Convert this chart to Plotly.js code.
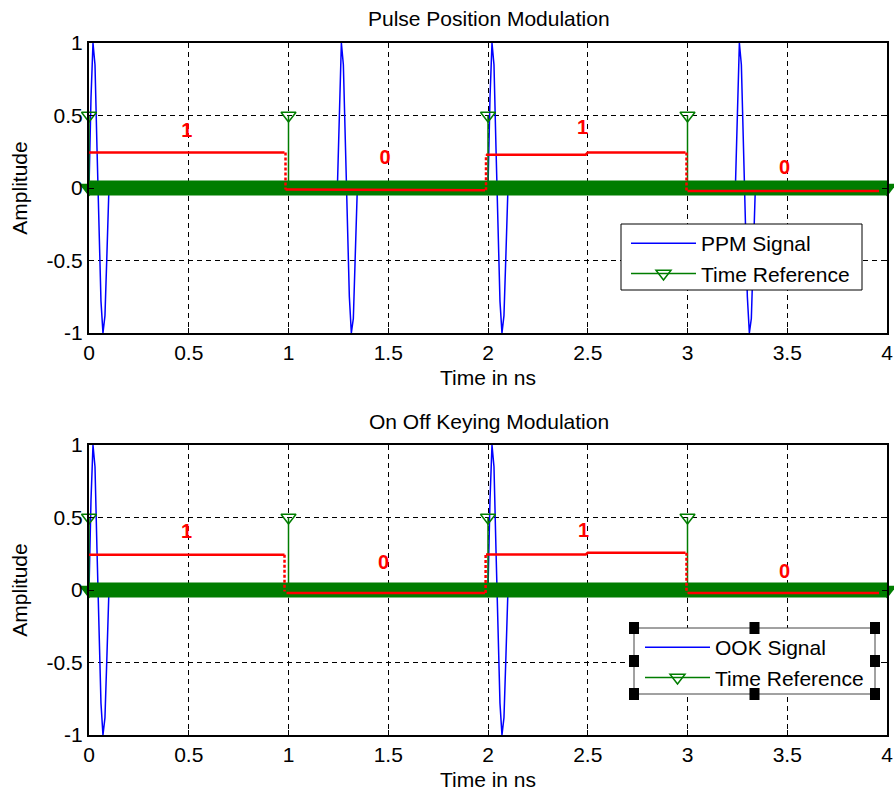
<!DOCTYPE html>
<html><head><meta charset="utf-8">
<script src="https://cdn.plot.ly/plotly-3.0.1.min.js"></script>
<style>html,body{margin:0;padding:0;background:#fff;} #chart{width:894px;height:792px;}</style>
</head><body><div id="chart"></div>
<script>
// ---------- data ----------
const ppmTime = [0, 0.01, 0.02, 0.03, 0.04, 0.05, 0.06, 0.07, 0.08, 0.09, 0.10,
  1.245, 1.255, 1.265, 1.275, 1.285, 1.295, 1.305, 1.315, 1.325, 1.335, 1.345,
  2.0, 2.01, 2.02, 2.03, 2.04, 2.05, 2.06, 2.07, 2.08, 2.09, 2.10,
  3.24, 3.25, 3.26, 3.27, 3.28, 3.29, 3.30, 3.31, 3.32, 3.33, 3.34];
const ppmAmp = [0, 0.62, 1.0, 0.85, 0.28, -0.3, -0.78, -1.0, -0.88, -0.45, 0,
  0, 0.6, 1.0, 0.85, 0.25, -0.3, -0.75, -1.0, -0.9, -0.45, 0,
  0, 0.62, 1.0, 0.85, 0.28, -0.3, -0.78, -1.0, -0.88, -0.45, 0,
  0, 0.6, 1.0, 0.85, 0.25, -0.3, -0.75, -1.0, -0.9, -0.45, 0];
const ookTime = [0, 0.01, 0.02, 0.03, 0.04, 0.05, 0.06, 0.07, 0.08, 0.09, 0.10,
  2.0, 2.01, 2.02, 2.03, 2.04, 2.05, 2.06, 2.07, 2.08, 2.09, 2.10];
const ookAmp = [0, 0.62, 1.0, 0.85, 0.28, -0.3, -0.78, -1.0, -0.88, -0.45, 0,
  0, 0.62, 1.0, 0.85, 0.28, -0.3, -0.78, -1.0, -0.88, -0.45, 0];

const refTime = [0, 1, 2, 3];
const refAmp = [0.5, 0.5, 0.5, 0.5];
const refZeroSpan = [0, 4];
const refZeroLevel = [0, 0];

// data bits (red) : horizontal segments and transitions
const ppmBitX = [-0.015, 0.98, null, 0.985, 1.985, null, 1.99, 2.49, 2.5, 2.99, null, 3.0, 3.96];
const ppmBitY = [0.245, 0.245, null, -0.01, -0.015, null, 0.23, 0.23, 0.245, 0.245, null, -0.02, -0.02];
const ppmEdgeX = [0.985, 0.985, null, 1.99, 1.99, null, 2.995, 2.995];
const ppmEdgeY = [0.245, -0.01, null, -0.015, 0.23, null, 0.245, -0.02];

const ookBitX = [-0.01, 0.98, null, 0.99, 1.985, null, 1.99, 2.49, 2.5, 2.99, null, 3.0, 3.96];
const ookBitY = [0.243, 0.243, null, -0.02, -0.02, null, 0.245, 0.245, 0.257, 0.257, null, -0.02, -0.02];
const ookEdgeX = [0.98, 0.98, null, 1.988, 1.988, null, 2.995, 2.995];
const ookEdgeY = [0.243, -0.01, null, -0.02, 0.245, null, 0.257, -0.02];

const bitText = ['1', '0', '1', '0'];
const ppmLabelX = [0.49, 1.484, 2.474, 3.486];
const ppmLabelY = [0.383, 0.197, 0.41, 0.134];
const ookLabelX = [0.489, 1.476, 2.479, 3.486];
const ookLabelY = [0.396, 0.177, 0.398, 0.12];

const xTickVals = [0, 0.5, 1, 1.5, 2, 2.5, 3, 3.5, 4];
const xTickText = ['0', '0.5', '1', '1.5', '2', '2.5', '3', '3.5', '4'];
const yTickVals = [-1, -0.5, 0, 0.5, 1];
const yTickText = ['-1', '-0.5', '0', '0.5', '1'];

// ---------- styling ----------
const BLUE = '#0000ff', GREEN = 'rgb(0,125,0)', RED = '#ff0000';
const FONT = 'Liberation Sans, Arial, sans-serif';
const FS = 21;

function stems(xs, ys) {
  const sx = [], sy = [];
  xs.forEach((x, i) => { sx.push(x, x, null); sy.push(0, ys[i], null); });
  return {x: sx, y: sy};
}

function panelTraces(sigX, sigY, sigName, xa, ya, bitX, bitY, edgeX, edgeY, labX, labY, leg) {
  const st = stems(refTime, refAmp);
  return [
    {type: 'scatter', mode: 'lines', x: sigX, y: sigY, name: sigName, xaxis: xa, yaxis: ya,
     line: {color: BLUE, width: 1.5}, legend: leg, legendgroup: leg + 'a', hoverinfo: 'skip'},
    {type: 'scatter', mode: 'lines+markers', x: st.x, y: st.y, name: 'Time Reference', xaxis: xa, yaxis: ya,
     cliponaxis: false,
     line: {color: GREEN, width: 1.5}, marker: {symbol: 'triangle-down-open', size: 13, color: GREEN, line: {width: 1.5, color: GREEN}},
     legend: leg, legendgroup: leg + 'b', hoverinfo: 'skip'},
    {type: 'scatter', mode: 'lines+markers', x: refZeroSpan, y: refZeroLevel, xaxis: xa, yaxis: ya, showlegend: false,
     cliponaxis: false,
     line: {color: GREEN, width: 15}, marker: {symbol: 'triangle-down', size: 17, color: GREEN}, hoverinfo: 'skip'},
    {type: 'scatter', mode: 'lines', x: bitX, y: bitY, xaxis: xa, yaxis: ya, showlegend: false,
     line: {color: RED, width: 2.5}, hoverinfo: 'skip'},
    {type: 'scatter', mode: 'lines', x: edgeX, y: edgeY, xaxis: xa, yaxis: ya, showlegend: false,
     line: {color: RED, width: 2.5, dash: '3px,2px'}, hoverinfo: 'skip'},
    {type: 'scatter', mode: 'text', x: labX, y: labY, text: bitText, xaxis: xa, yaxis: ya, showlegend: false,
     textposition: 'middle center', textfont: {family: 'Liberation Sans, Arial, sans-serif', size: 20, color: RED, weight: 'bold'},
     hoverinfo: 'skip'}
  ];
}

const data = [].concat(
  panelTraces(ppmTime, ppmAmp, 'PPM Signal', 'x', 'y', ppmBitX, ppmBitY, ppmEdgeX, ppmEdgeY, ppmLabelX, ppmLabelY, 'legend'),
  panelTraces(ookTime, ookAmp, 'OOK Signal', 'x2', 'y2', ookBitX, ookBitY, ookEdgeX, ookEdgeY, ookLabelX, ookLabelY, 'legend2')
);

const tickFont = {family: FONT, size: FS, color: '#000'};
function xAxis(anchor) {
  return {anchor: anchor, domain: [0, 1], range: [0, 4], tickvals: xTickVals, ticktext: xTickText,
    showgrid: true, gridcolor: '#000', gridwidth: 1, griddash: '5px,4px', zeroline: false,
    showline: true, linecolor: '#000', linewidth: 2, mirror: 'ticks', ticks: 'inside', ticklen: 5, tickcolor: '#000',
    tickfont: tickFont, automargin: false, fixedrange: true,
    title: {text: 'Time in ns', font: {family: FONT, size: FS, color: '#000'}, standoff: 7}};
}
function yAxis(anchor, dom) {
  return {anchor: anchor, domain: dom, range: [-1, 1], tickvals: yTickVals, ticktext: yTickText,
    showgrid: true, gridcolor: '#000', gridwidth: 1, griddash: '5px,4px', zeroline: false,
    showline: true, linecolor: '#000', linewidth: 2, mirror: 'ticks', ticks: 'inside', ticklen: 5, tickcolor: '#000',
    tickfont: tickFont, automargin: false, fixedrange: true,
    title: {text: 'Amplitude', font: {family: FONT, size: FS, color: '#000'}, standoff: 13}};
}

const M = {l: 89, r: 7, t: 43, b: 57};
const PW = 894 - M.l - M.r, PH = 792 - M.t - M.b;
const px = v => (v - M.l) / PW;
const py = v => (792 - M.b - v) / PH;

// legend boxes (the lower one shows selection handles)
const box1 = {x0: 621, x1: 862, y0: 224, y1: 290};
const box2 = {x0: 634, x1: 875, y0: 628, y1: 694};
const shapes = [
  {type: 'rect', xref: 'paper', yref: 'paper', x0: px(box1.x0), x1: px(box1.x1), y0: py(box1.y1), y1: py(box1.y0),
   fillcolor: '#fff', line: {color: '#000', width: 1}, layer: 'above'},
  {type: 'rect', xref: 'paper', yref: 'paper', x0: px(box2.x0), x1: px(box2.x1), y0: py(box2.y1), y1: py(box2.y0),
   fillcolor: '#fff', line: {color: '#444', width: 1}, layer: 'above'}
];
const hx = [box2.x0, (box2.x0 + box2.x1) / 2, box2.x1];
const hy = [box2.y0, (box2.y0 + box2.y1) / 2, box2.y1];
hx.forEach((cx, i) => hy.forEach((cy, j) => {
  if (i === 1 && j === 1) return;
  shapes.push({type: 'rect', xref: 'paper', yref: 'paper', x0: px(cx - 5), x1: px(cx + 5), y0: py(cy + 6), y1: py(cy - 6),
    fillcolor: '#000', line: {width: 0}, layer: 'above'});
}));

const titleFont = {family: FONT, size: FS, color: '#000'};
const legendCommon = {xanchor: 'left', yanchor: 'top', bgcolor: 'rgba(0,0,0,0)', borderwidth: 0,
  font: {family: FONT, size: FS, color: '#000'}, itemwidth: 65, tracegroupgap: 0, traceorder: 'grouped'};
const layout = {
  width: 894, height: 792, margin: M, paper_bgcolor: '#fff', plot_bgcolor: '#fff',
  showlegend: true,
  xaxis: xAxis('y'), yaxis: yAxis('x', [py(333), 1]),
  xaxis2: xAxis('y2'), yaxis2: yAxis('x2', [0, py(445)]),
  legend: Object.assign({x: px(626), y: py(223)}, legendCommon),
  legend2: Object.assign({x: px(640), y: py(627)}, legendCommon),
  shapes: shapes,
  annotations: [
    {text: 'Pulse Position Modulation', xref: 'paper', yref: 'paper', x: px(489), y: py(19), xanchor: 'center', yanchor: 'middle', showarrow: false, font: titleFont},
    {text: 'On Off Keying Modulation', xref: 'paper', yref: 'paper', x: px(489), y: py(421), xanchor: 'center', yanchor: 'middle', showarrow: false, font: titleFont}
  ]
};

Plotly.newPlot('chart', data, layout, {displayModeBar: false, staticPlot: true});
</script>
</body></html>
